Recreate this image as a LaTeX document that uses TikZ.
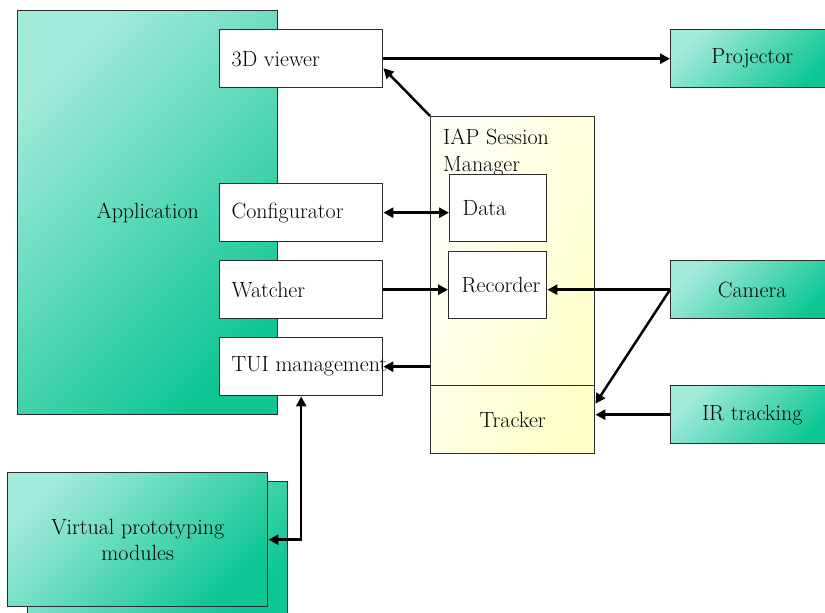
\documentclass[tikz,border=0pt]{standalone}
\usepackage{fontspec}
\usetikzlibrary{arrows.meta,calc}
\definecolor{tealL}{RGB}{162,234,218}
\definecolor{tealD}{RGB}{14,198,148}
\definecolor{ylwL}{RGB}{255,255,248}
\definecolor{ylwD}{RGB}{255,255,200}
\definecolor{edgec}{RGB}{45,45,45}
\newcommand{\boxlbl}[2]{\makebox[#1][l]{#2}}
\begin{document}
\begin{tikzpicture}[x=1pt,y=-1pt,
  font=\rmfamily\fontsize{22}{26.5}\selectfont,
  box/.style={draw=edgec,line width=1.4pt,inner sep=0pt,anchor=north west},
  mintbox/.style={box,top color=tealL,bottom color=tealD,shading angle=45},
  wbox/.style={box,fill=white,inner xsep=12pt,minimum width=163pt,minimum height=58pt},
  conn/.style={line width=2.5pt,-{Triangle[length=10pt,width=10pt]}},
  bconn/.style={line width=2.5pt,{Triangle[length=10pt,width=10pt]}-{Triangle[length=10pt,width=10pt]}}
]
\useasboundingbox (0,0) rectangle (825,613);
\clip (0,0) rectangle (825,613);
% Application and its parts
\node[mintbox,minimum width=260pt,minimum height=404pt] (app) at (17,10) {Application};
\node[wbox] (v3d)   at (219,29)  {\boxlbl{139pt}{3D viewer}};
\node[wbox] (conf)  at (219,183) {\boxlbl{139pt}{Configurator}};
\node[wbox] (watch) at (219,260) {\boxlbl{139pt}{Watcher}};
\node[wbox] (tui)   at (219,337) {\boxlbl{139pt}{TUI management}};
% Session manager
\node[box,left color=ylwL,right color=ylwD,shading angle=70,minimum width=164pt,minimum height=337pt] (sm) at (430,116) {};
\node[anchor=north west,inner sep=0pt,align=left] (smlbl) at (443,129) {IAP Session\\Manager};
\node[box,fill=white,inner xsep=13pt,minimum width=97pt,minimum height=67pt] (data) at (449,174) {\boxlbl{71pt}{Data}};
\node[box,fill=white,inner xsep=13pt,minimum width=98pt,minimum height=67pt] (rec) at (448,251) {\boxlbl{72pt}{Recorder}};
\node[box,minimum width=164pt,minimum height=68pt] (trk) at (430,385) {Tracker};
% Right devices
\node[mintbox,minimum width=163pt,minimum height=58pt] (proj) at (670,29) {Projector};
\node[mintbox,minimum width=163pt,minimum height=58pt] (cam)  at (670,260) {Camera};
\node[mintbox,minimum width=163pt,minimum height=58pt] (ir)   at (670,385) {IR tracking};
% Virtual prototyping modules (stacked)
\node[mintbox,minimum width=260pt,minimum height=140pt] (vpb) at (27,481) {};
\node[mintbox,minimum width=260pt,minimum height=134pt,align=center] (vp) at (7,472) {Virtual prototyping\\modules};
% Connectors
\draw[conn] (v3d.east) -- (v3d.east -| proj.west);
\draw[conn] (sm.north west) -- ($(v3d.east)+(0,9.5)$);
\draw[bconn] (conf.east) -- (conf.east -| data.west);
\draw[conn] (watch.east) -- (watch.east -| rec.west);
\draw[conn] (cam.west) -- (cam.west -| rec.east);
\draw[conn] (cam.west) -- ($(trk.east)+(0,-16)$);
\draw[conn] (ir.west) -- (ir.west -| trk.east);
\draw[conn] (tui.east -| sm.west) -- (tui.east);
\draw[bconn] (tui.south) |- (vp.east);
\end{tikzpicture}
\end{document}
